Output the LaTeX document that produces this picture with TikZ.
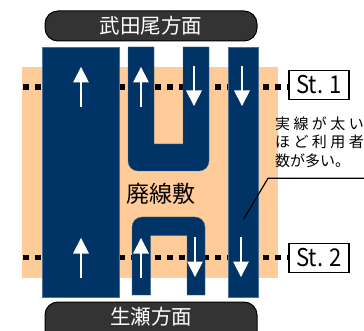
\documentclass[tikz,border=0pt]{standalone}
\usepackage{fontspec}
\setmainfont{Noto Sans CJK JP}
\definecolor{trackblue}{HTML}{003366}
\definecolor{areapeach}{HTML}{FFCC99}
\definecolor{pillgray}{HTML}{333333}
\tikzset{
  track/.style={fill=trackblue,draw=trackblue!70!white,line width=0.4pt},
  pill/.style={fill=pillgray,draw=black,line width=1pt,rounded corners=13pt},
  stbox/.style={draw=black,fill=white,line width=1.2pt,minimum width=60pt,minimum height=29pt,inner sep=0pt,font=\fontsize{24.5}{24.5}\selectfont},
  stdots/.style={line width=5.5pt,dash pattern=on 6pt off 6pt},
  dirarrow/.style={white,line width=2pt},
  dirname/.style={white,font=\fontsize{20.5}{20.5}\selectfont},
  note/.style={font=\fontsize{15}{15}\selectfont,anchor=base west,inner sep=0pt}
}
\begin{document}
\begin{tikzpicture}[x=1pt,y=-1pt]
   \useasboundingbox (0,0) rectangle (364,331);
   \clip (0,0) rectangle (364,331);
   \fill[areapeach] (22,67) rectangle (278,278);
   % stations
   \node[stbox] (st1) at (319,85) {\scalebox{0.9}[1]{St. 1}};
   \node[stbox] (st2) at (319,258) {\scalebox{0.9}[1]{St. 2}};
   \coordinate (st1w) at (23,87);
   \coordinate (st2w) at (23,257.5);
   \draw[stdots] (st1w) -- (st1w -| st1.west);
   \draw[stdots] (st2w) -- (st2w -| st2.west);
   % tracks
   \draw[track] (42.5,47) rectangle (119.5,297);
   \draw[track] (228,47) rectangle (258,297);
   \draw[track] (128,47) -- (128,161) arc[start angle=180,end angle=90,radius=10]
      -- (199,171) arc[start angle=90,end angle=0,radius=10]
      -- (209,47) -- (183,47) -- (183,144) -- (154,144) -- (154,47) -- cycle;
   \draw[track] (132,295) -- (132,227) arc[start angle=180,end angle=270,radius=10]
      -- (195,217) arc[start angle=270,end angle=360,radius=10]
      -- (205,295) -- (187,295) -- (187,235.5) -- (150.5,235.5) -- (150.5,295) -- cycle;
   % direction arrows
   \foreach \x/\y in {81/67,141/67,81/238,141/238} {
    \fill[white] (\x,\y) -- (\x+8,\y+15.5) -- (\x-8,\y+15.5) -- cycle;
    \draw[dirarrow] (\x,\y+15) -- (\x,\y+40);
   }
   \foreach \x/\y in {194/106,242/106,195/277,241/277} {
    \fill[white] (\x,\y) -- (\x+8,\y-15.5) -- (\x-8,\y-15.5) -- cycle;
    \draw[dirarrow] (\x,\y-15) -- (\x,\y-40);
   }
   % direction labels
   \draw[pill] (45,11) rectangle (257,41);
   \draw[pill] (45,302) rectangle (257,345);
   \node[dirname] (north) at (151,26) {武田尾方面};
   \node[dirname] (south) at (151,317) {生瀬方面};
   \node[font=\fontsize{23}{23}\selectfont] (closed) at (161,194) {廃線敷};
   % note
   \node[note] (note1) at (275,129.5) {実\hspace{3.4pt}線\hspace{3.4pt}が\hspace{3.4pt}太\hspace{3.4pt}い};
   \node[note] (note2) at (275,148) {ほ\hspace{3.4pt}ど\hspace{3.4pt}利\hspace{3.4pt}用\hspace{3.4pt}者};
   \node[note] (note3) at (275,166.5) {数が多い。};
   \coordinate (leadA) at (243.7,219);
   \coordinate (leadB) at (268,178.3);
   \coordinate (leadC) at (364,178.3);
   \draw[line width=1.2pt] (leadA) -- (leadB) -- (leadC);
  \end{tikzpicture}
\end{document}
